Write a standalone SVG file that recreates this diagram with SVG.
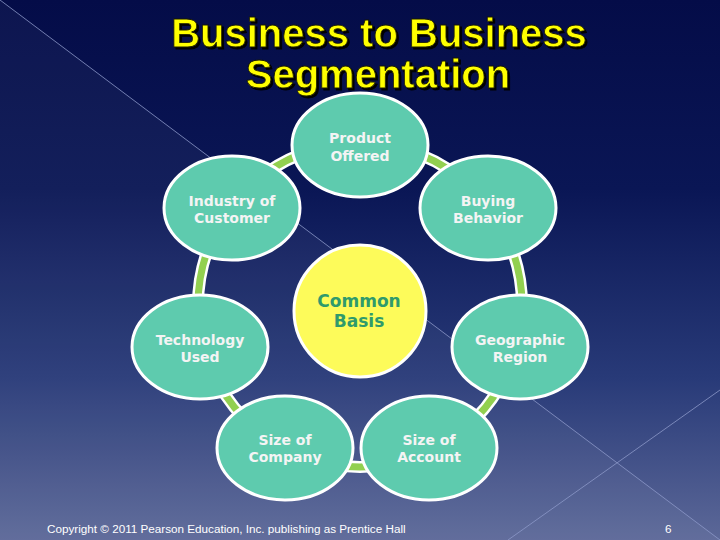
<svg xmlns="http://www.w3.org/2000/svg" width="720" height="540" viewBox="0 0 720 540">
<defs>
<linearGradient id="bg" x1="0" y1="0" x2="0" y2="1">
<stop offset="0" stop-color="#040c48"/>
<stop offset="0.35" stop-color="#0a1655"/>
<stop offset="0.7" stop-color="#283a78"/>
<stop offset="1" stop-color="#5c6898"/>
</linearGradient>
<filter id="shadow" x="-5%" y="-20%" width="110%" height="140%">
<feDropShadow dx="2" dy="2" stdDeviation="0.6" flood-color="#000000" flood-opacity="1"/>
</filter>
<style>
.title{font-family:"Liberation Sans",Arial,sans-serif;font-weight:bold;font-size:40px;fill:#ffff00;stroke:#1a1a00;stroke-width:0.8px;text-anchor:middle}
.node{fill:#5ecbae;stroke:#ffffff;stroke-width:3}
.center{fill:#fdfb5a;stroke:#ffffff;stroke-width:3}
.lbl{font-family:"DejaVu Sans",Verdana,sans-serif;font-weight:bold;font-size:14px;fill:#f4f4f4;text-anchor:middle}
.clbl{font-family:"DejaVu Sans",Verdana,sans-serif;font-weight:bold;font-size:17px;fill:#2f9a6c;text-anchor:middle}
.ringW{fill:none;stroke:#ffffff;stroke-width:12}
.ringG{fill:none;stroke:#92d050;stroke-width:7}
.deco{stroke:#8c98c8;stroke-width:1;fill:none;opacity:0.8}
.foot{font-family:"Liberation Sans",Arial,sans-serif;font-size:11.7px;fill:#ffffff}
</style>
</defs>
<rect width="720" height="540" fill="url(#bg)"/>
<polygon points="0,0 720,540 0,540" fill="#ffffff" opacity="0.04"/>
<line class="deco" x1="0" y1="0" x2="720" y2="540"/>
<line class="deco" x1="508" y1="540" x2="720" y2="390"/>

<g id="title" filter="url(#shadow)">
<text class="title" x="379" y="47">Business to Business</text>
<text class="title" x="378" y="88">Segmentation</text>
</g>

<g id="connectors">
<circle class="ringW" cx="360" cy="305" r="162"/>
<circle class="ringG" cx="360" cy="305" r="162"/>
</g>

<g id="node-product">
<ellipse class="node" cx="360" cy="145" rx="68" ry="52"/>
<text class="lbl" x="360" y="143">Product</text>
<text class="lbl" x="360" y="161">Offered</text>
</g>
<g id="node-industry">
<ellipse class="node" cx="232" cy="208" rx="68" ry="52"/>
<text class="lbl" x="232" y="206">Industry of</text>
<text class="lbl" x="232" y="223">Customer</text>
</g>
<g id="node-buying">
<ellipse class="node" cx="488" cy="208" rx="68" ry="52"/>
<text class="lbl" x="488" y="206">Buying</text>
<text class="lbl" x="488" y="223">Behavior</text>
</g>
<g id="node-technology">
<ellipse class="node" cx="200" cy="347" rx="68" ry="52"/>
<text class="lbl" x="200" y="345">Technology</text>
<text class="lbl" x="200" y="362">Used</text>
</g>
<g id="node-geographic">
<ellipse class="node" cx="520" cy="347" rx="68" ry="52"/>
<text class="lbl" x="520" y="345">Geographic</text>
<text class="lbl" x="520" y="362">Region</text>
</g>
<g id="node-company">
<ellipse class="node" cx="285" cy="448" rx="68" ry="52"/>
<text class="lbl" x="285" y="445">Size of</text>
<text class="lbl" x="285" y="462">Company</text>
</g>
<g id="node-account">
<ellipse class="node" cx="429" cy="448" rx="68" ry="52"/>
<text class="lbl" x="429" y="445">Size of</text>
<text class="lbl" x="429" y="462">Account</text>
</g>
<g id="node-common">
<circle class="center" cx="360" cy="311" r="66"/>
<text class="clbl" x="359" y="307">Common</text>
<text class="clbl" x="359" y="327">Basis</text>
</g>

<text class="foot" x="47" y="533">Copyright © 2011 Pearson Education, Inc. publishing as Prentice Hall</text>
<text class="foot" x="665" y="533">6</text>
</svg>
